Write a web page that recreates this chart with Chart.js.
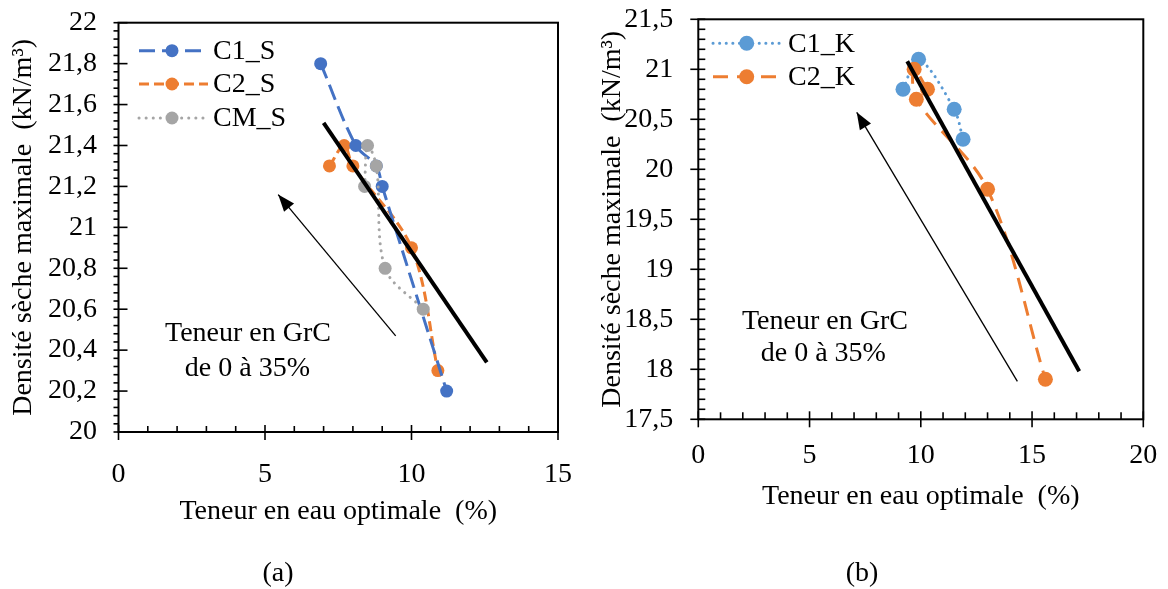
<!DOCTYPE html>
<html>
<head>
<meta charset="utf-8">
<script src="https://cdn.jsdelivr.net/npm/chart.js@4.4.1/dist/chart.umd.min.js"></script>
<style>
body { margin: 0; background: #fff; width: 1168px; height: 589px; position: relative; overflow: hidden; }
canvas { position: absolute; top: 0; }
#chartA { left: 0; }
#chartB { left: 580px; }
.cap { position: absolute; top: 556px; width: 100px; text-align: center; line-height: 32px;
       font-family: "Liberation Serif", serif; font-size: 28px; color: #000; }
</style>
</head>
<body>
<canvas id="chartA" width="580" height="589"></canvas>
<canvas id="chartB" width="588" height="589"></canvas>
<div class="cap" style="left:228px">(a)</div>
<div class="cap" style="left:812px">(b)</div>
<script>
// (a) série S
var c1sX = [6.9, 8.1, 8.8, 9.0, 11.2];
var c1sY = [21.8, 21.4, 21.3, 21.2, 20.2];
var c2sX = [7.2, 7.7, 8.0, 10.0, 10.9];
var c2sY = [21.3, 21.4, 21.3, 20.9, 20.3];
var cmsX = [8.4, 8.5, 8.8, 9.1, 10.4];
var cmsY = [21.2, 21.4, 21.3, 20.8, 20.6];
var trendAX = [7.0, 12.57];
var trendAY = [21.51, 20.34];
var arrowAX = [9.46, 5.45];
var arrowAY = [20.47, 21.16];

// (b) série K
var c1kX = [9.2, 9.9, 11.5, 11.9];
var c1kY = [20.8, 21.1, 20.6, 20.3];
var c2kX = [10.3, 9.7, 9.8, 13.0, 15.6];
var c2kY = [20.8, 21.0, 20.7, 19.8, 17.9];
var trendBX = [9.39, 17.12];
var trendBY = [21.08, 17.98];
var arrowBX = [14.34, 7.12];
var arrowBY = [17.88, 20.57];

var xTitle = "Teneur en eau optimale  (%)";
var yTitle = "Densité sèche maximale  (kN/m³)";
var noteLines = ["Teneur en GrC", "de 0 à 35%"];

var fam = '"Liberation Serif", "Times New Roman", serif';

function pts(xs, ys) {
    return xs.map(function(x, i) { return { x: x, y: ys[i] }; });
}
function fmt(v) {
    return String(Math.round(v * 100) / 100).replace('.', ',');
}

function serie(label, xs, ys, color, dash, radius, order) {
    return {
        label: label,
        data: pts(xs, ys),
        showLine: true,
        borderColor: color,
        backgroundColor: color,
        borderWidth: 3,
        borderDash: dash,
        borderCapStyle: dash[0] < 1 ? 'round' : 'butt',
        pointRadius: radius,
        pointBorderWidth: 0,
        tension: 0.33,
        order: order
    };
}
function straight(xs, ys, width, order) {
    return {
        label: '',
        data: pts(xs, ys),
        showLine: true,
        borderColor: '#000',
        backgroundColor: '#000',
        borderWidth: width,
        pointRadius: 0,
        tension: 0,
        order: order
    };
}

// axes, ticks, legend, arrow head, notes
var decor = {
    id: 'decor',
    beforeDatasetsDraw: function(chart, args, o) {
        var ctx = chart.ctx, a = chart.chartArea;
        ctx.save();
        ctx.strokeStyle = '#000';
        ctx.lineWidth = 1.6;
        drawTicks(ctx, chart.scales.x, o.tx, true, a);
        drawTicks(ctx, chart.scales.y, o.ty, false, a);
        ctx.lineWidth = 2;
        ctx.strokeRect(a.left, a.top, a.right - a.left, a.bottom - a.top);
        ctx.restore();
    },
    afterDatasetsDraw: function(chart, args, o) {
        var ctx = chart.ctx;
        ctx.save();
        // arrow head
        var m = chart.getDatasetMeta(o.arrow).data;
        var p1 = m[m.length - 2], p2 = m[m.length - 1];
        var ang = Math.atan2(p2.y - p1.y, p2.x - p1.x);
        ctx.fillStyle = '#000';
        ctx.beginPath();
        ctx.moveTo(p2.x, p2.y);
        ctx.lineTo(p2.x - 17 * Math.cos(ang) + 6.5 * Math.sin(ang), p2.y - 17 * Math.sin(ang) - 6.5 * Math.cos(ang));
        ctx.lineTo(p2.x - 17 * Math.cos(ang) - 6.5 * Math.sin(ang), p2.y - 17 * Math.sin(ang) + 6.5 * Math.cos(ang));
        ctx.closePath();
        ctx.fill();
        // notes
        ctx.font = '28px ' + fam;
        ctx.textAlign = 'center';
        ctx.textBaseline = 'middle';
        o.notes.forEach(function(n) {
            ctx.fillText(n.text, chart.scales.x.getPixelForValue(n.x), chart.scales.y.getPixelForValue(n.y));
        });
        // legend
        ctx.textAlign = 'left';
        o.legend.forEach(function(it) {
            var ds = chart.data.datasets[it.ds];
            ctx.strokeStyle = ds.borderColor;
            ctx.lineWidth = ds.borderWidth;
            ctx.lineCap = ds.borderCapStyle;
            ctx.setLineDash(ds.borderDash);
            ctx.beginPath();
            ctx.moveTo(o.lx0, it.y);
            ctx.lineTo(o.lx1, it.y);
            ctx.stroke();
            ctx.setLineDash([]);
            ctx.fillStyle = ds.backgroundColor;
            ctx.beginPath();
            ctx.arc(o.lxm, it.y, ds.pointRadius, 0, Math.PI * 2);
            ctx.fill();
            ctx.fillStyle = '#000';
            ctx.fillText(ds.label, o.ltx, it.y + 1);
        });
        ctx.restore();
    }
};

function drawTicks(ctx, scale, t, horiz, a) {
    var n = Math.round((scale.max - scale.min) / t.minor);
    for (var i = 0; i <= n; i++) {
        var v = scale.min + i * t.minor;
        var q = (v - scale.min) / t.major;
        var major = Math.abs(q - Math.round(q)) < 1e-6;
        var out = major ? t.majOut : t.minOut;
        var inn = major ? t.majIn : t.minIn;
        var p = scale.getPixelForValue(v);
        ctx.beginPath();
        if (horiz) {
            ctx.moveTo(p, a.bottom + out);
            ctx.lineTo(p, a.bottom - inn);
        } else {
            ctx.moveTo(a.left - out, p);
            ctx.lineTo(a.left + inn, p);
        }
        ctx.stroke();
    }
}

// tick label gap is given through an invisible tick mark so it does not add to the layout padding
function axis(min, max, step, gap, title, titlePad, size, horiz) {
    return {
        type: 'linear',
        min: min,
        max: max,
        ticks: {
            stepSize: step,
            padding: 0,
            color: '#000',
            font: { family: fam, size: 28 },
            callback: function(v) { return fmt(v); }
        },
        grid: {
            display: true,
            drawOnChartArea: false,
            drawTicks: true,
            tickLength: gap,
            tickColor: 'rgba(0,0,0,0)'
        },
        border: { display: false },
        title: {
            display: true,
            text: title,
            color: '#000',
            font: { family: fam, size: 28 },
            padding: titlePad
        },
        afterFit: function(s) {
            if (horiz) s.height = size; else s.width = size;
        }
    };
}

new Chart(document.getElementById('chartA'), {
    type: 'scatter',
    data: {
        datasets: [
            serie('C1_S', c1sX, c1sY, '#4472C4', [16, 7], 6.5, 2),
            serie('C2_S', c2sX, c2sY, '#ED7D31', [10, 5], 6.5, 3),
            serie('CM_S', cmsX, cmsY, '#A5A5A5', [0.1, 7], 6.5, 1),
            straight(trendAX, trendAY, 4, 0),
            straight(arrowAX, arrowAY, 1.3, 0)
        ]
    },
    options: {
        responsive: false,
        animation: false,
        layout: { padding: { left: 0, top: 22.7, right: 22, bottom: 57 } },
        scales: {
            x: axis(0, 15, 5, 26, xTitle, { top: 0, bottom: 3.2 }, 100, true),
            y: axis(20, 22, 0.2, 21.5, yTitle, { top: 7, bottom: 0 }, 118.5, false)
        },
        plugins: {
            legend: { display: false },
            tooltip: { enabled: false },
            decor: {
                tx: { minor: 1, major: 5, majOut: 8, majIn: 7, minOut: 0, minIn: 6 },
                ty: { minor: 0.04, major: 0.2, majOut: 5, majIn: 9, minOut: 5, minIn: 0 },
                arrow: 4,
                notes: [
                    { text: noteLines[0], x: 4.42, y: 20.48 },
                    { text: noteLines[1], x: 4.40, y: 20.31 }
                ],
                lx0: 139, lx1: 208, lxm: 172, ltx: 213,
                legend: [ { ds: 0, y: 50.7 }, { ds: 1, y: 84 }, { ds: 2, y: 118 } ]
            }
        }
    },
    plugins: [decor]
});

new Chart(document.getElementById('chartB'), {
    type: 'scatter',
    data: {
        datasets: [
            serie('C1_K', c1kX, c1kY, '#5B9BD5', [0.1, 6.5], 7.5, 2),
            serie('C2_K', c2kX, c2kY, '#ED7D31', [15, 9], 7.5, 1),
            straight(trendBX, trendBY, 4, 0),
            straight(arrowBX, arrowBY, 1.3, 0)
        ]
    },
    options: {
        responsive: false,
        animation: false,
        layout: { padding: { left: 0, top: 19.3, right: 24.7, bottom: 69.7 } },
        scales: {
            x: axis(0, 20, 5, 20, xTitle, { top: 0, bottom: 5.5 }, 100, true),
            y: axis(17.5, 21.5, 0.5, 25, yTitle, { top: 16.2, bottom: 0 }, 118.3, false)
        },
        plugins: {
            legend: { display: false },
            tooltip: { enabled: false },
            decor: {
                tx: { minor: 1, major: 5, majOut: 8, majIn: 8, minOut: 0, minIn: 7 },
                ty: { minor: 0.1, major: 0.5, majOut: 8, majIn: 7, minOut: 0, minIn: 7 },
                arrow: 3,
                notes: [
                    { text: noteLines[0], x: 5.69, y: 18.48 },
                    { text: noteLines[1], x: 5.62, y: 18.16 }
                ],
                lx0: 133, lx1: 200, lxm: 166.7, ltx: 208,
                legend: [ { ds: 0, y: 43.3 }, { ds: 1, y: 76.7 } ]
            }
        }
    },
    plugins: [decor]
});
</script>
</body>
</html>
